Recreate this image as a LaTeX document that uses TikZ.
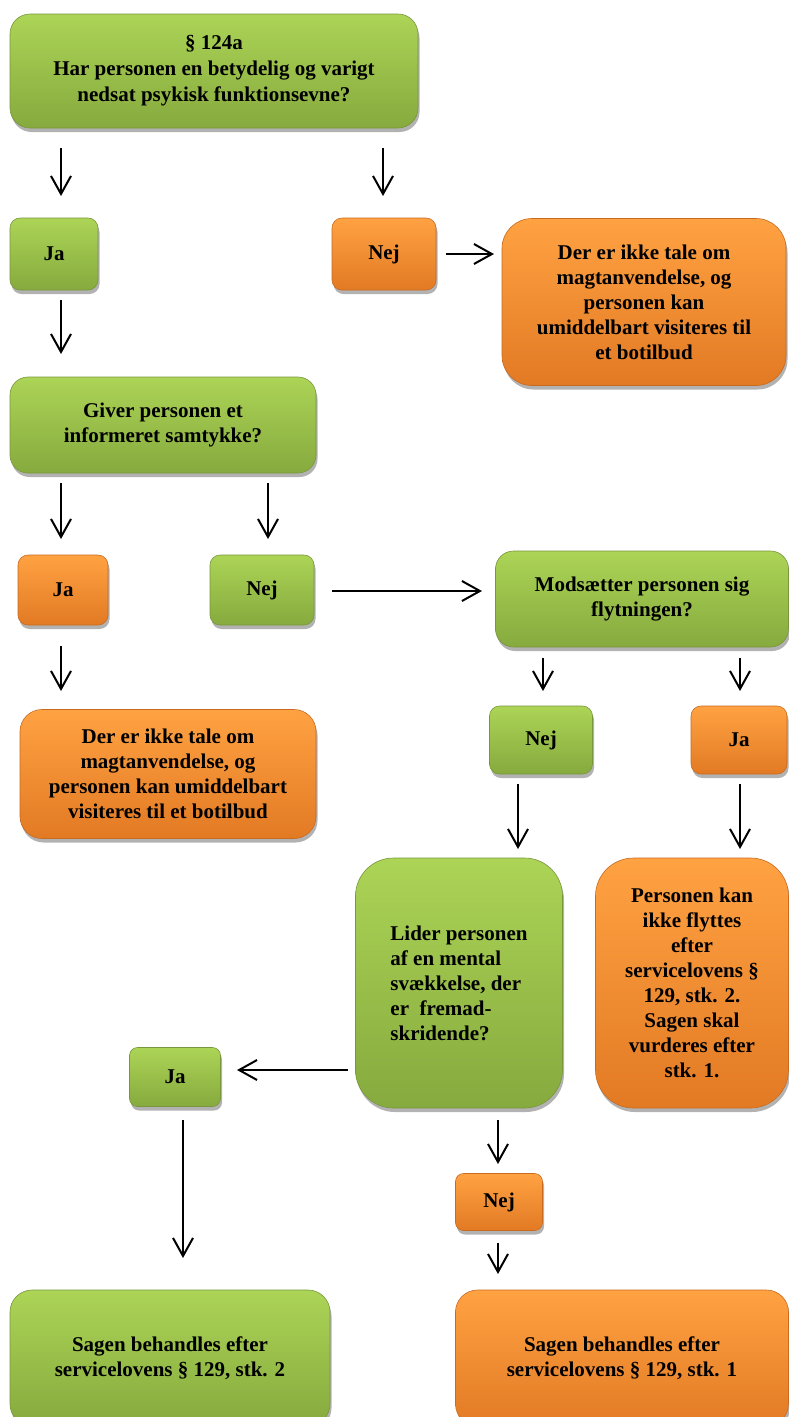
\documentclass[tikz,border=0pt]{standalone}
\usepackage{fontspec}
\setmainfont{Liberation Serif}
\usetikzlibrary{arrows.meta,shadows}
\definecolor{gtop}{RGB}{172,212,86}
\definecolor{gbot}{RGB}{134,170,62}
\definecolor{gedge}{RGB}{120,150,60}
\definecolor{otop}{RGB}{255,162,66}
\definecolor{obot}{RGB}{226,122,36}
\definecolor{oedge}{RGB}{200,106,32}
\tikzset{
  box/.style={rectangle, inner sep=0pt, align=center, line width=0.6pt,
    font=\bfseries\fontsize{21}{25}\selectfont,
    drop shadow={shadow xshift=1.5pt, shadow yshift=-4pt, opacity=0.3, fill=black}},
  gbox/.style={box, draw=gedge, top color=gtop, bottom color=gbot},
  obox/.style={box, draw=oedge, top color=otop, bottom color=obot},
  sz/.style 2 args={minimum width=#1pt, minimum height=#2pt},
  arr/.style={-{Straight Barb[length=18pt,width=20pt,line width=2pt]}, line width=1.8pt}
}
\begin{document}
\begin{tikzpicture}[x=1pt,y=-1pt]
\useasboundingbox (0,0) rectangle (789,1417);
% nodes
\node[gbox, sz={408}{114}, rounded corners=20pt, font=\bfseries\fontsize{21}{26}\selectfont] (top) at (214,71)
  {§ 124a\\Har personen en betydelig og varigt\\nedsat psykisk funktionsevne?};
\node[gbox, sz={88}{72}, rounded corners=10pt] (ja1) at (54,254) {Ja};
\node[obox, sz={104}{72}, rounded corners=10pt] (nej1) at (384,254) {Nej};
\node[obox, sz={284}{167}, rounded corners=30pt] (o1) at (644,302)
  {Der er ikke tale om\\magtanvendelse, og\\personen kan\\umiddelbart visiteres til\\et botilbud};
\node[gbox, sz={306}{96}, rounded corners=18pt] (giver) at (163,425)
  {Giver personen et\\informeret samtykke?};
\node[obox, sz={90}{70}, rounded corners=10pt] (ja2) at (63,590) {Ja};
\node[gbox, sz={104}{70}, rounded corners=10pt] (nej2) at (262,590) {Nej};
\node[gbox, sz={293}{96}, rounded corners=18pt] (mods) at (642,599)
  {Modsætter personen sig\\flytningen?};
\node[obox, sz={296}{129}, rounded corners=22pt] (o2) at (168,774)
  {Der er ikke tale om\\magtanvendelse, og\\personen kan umiddelbart\\visiteres til et botilbud};
\node[gbox, sz={103}{68}, rounded corners=10pt] (nej3) at (541,740) {Nej};
\node[obox, sz={96}{68}, rounded corners=10pt] (ja3) at (739,740) {Ja};
\node[gbox, sz={207}{250}, rounded corners=38pt, align=left] (lider) at (459,983)
  {Lider personen\\af en mental\\svækkelse, der\\er\ \ fremad-\\skridende?};
\node[obox, sz={193}{250}, rounded corners=38pt] (pers) at (692,983)
  {Personen kan\\ikke flyttes\\efter\\servicelovens §\\129, stk. 2.\\Sagen skal\\vurderes efter\\stk. 1.};
\node[gbox, sz={91}{59}, rounded corners=8pt] (ja4) at (175,1077) {Ja};
\node[obox, sz={87}{57}, rounded corners=8pt] (nej4) at (499,1202) {Nej};
\node[gbox, sz={320}{136}, rounded corners=22pt] (sag1) at (170,1358)
  {Sagen behandles efter\\servicelovens § 129, stk. 2};
\node[obox, sz={333}{136}, rounded corners=22pt] (sag2) at (622,1358)
  {Sagen behandles efter\\servicelovens § 129, stk. 1};
% arrow end points
\coordinate (a1s) at (61,148);   \coordinate (a1e) at (61,196);
\coordinate (a2s) at (383,148);  \coordinate (a2e) at (383,196);
\coordinate (a3s) at (446,254);  \coordinate (a3e) at (494,254);
\coordinate (a4s) at (61,300);   \coordinate (a4e) at (61,354);
\coordinate (a5s) at (61,483);   \coordinate (a5e) at (61,539);
\coordinate (a6s) at (268,483);  \coordinate (a6e) at (268,539);
\coordinate (a7s) at (332,591);  \coordinate (a7e) at (482,591);
\coordinate (a8s) at (61,646);   \coordinate (a8e) at (61,691);
\coordinate (a9s) at (543,658);  \coordinate (a9e) at (543,691);
\coordinate (a10s) at (740,658); \coordinate (a10e) at (740,691);
\coordinate (a11s) at (518,784); \coordinate (a11e) at (518,849);
\coordinate (a12s) at (740,784); \coordinate (a12e) at (740,849);
\coordinate (a13s) at (348,1070);\coordinate (a13e) at (237,1070);
\coordinate (a14s) at (183,1120);\coordinate (a14e) at (183,1258);
\coordinate (a15s) at (498,1120);\coordinate (a15e) at (498,1164);
\coordinate (a16s) at (498,1243);\coordinate (a16e) at (498,1274);
\foreach \i in {1,...,16} {\draw[arr] (a\i s) -- (a\i e);}
\end{tikzpicture}
\end{document}
